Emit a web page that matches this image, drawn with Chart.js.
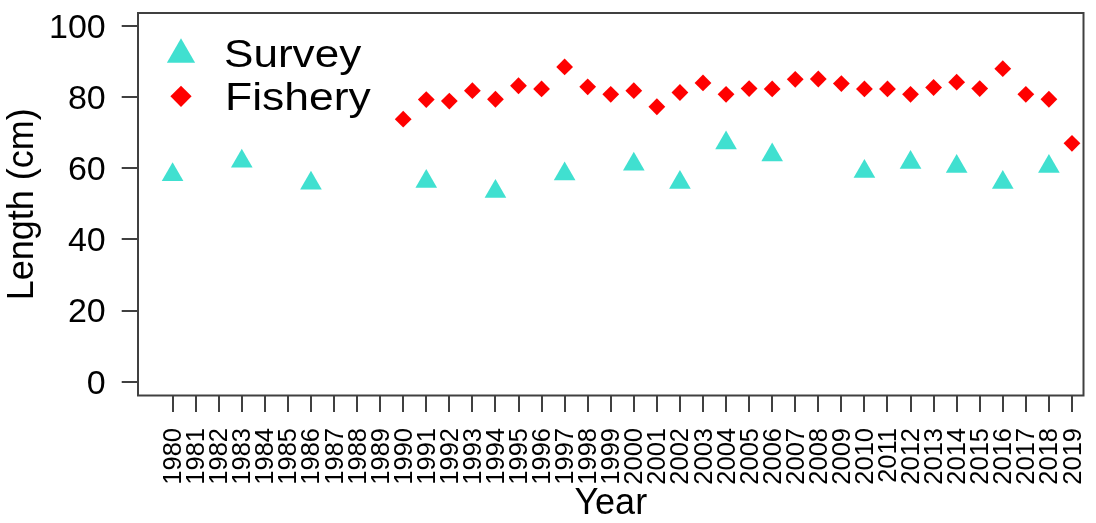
<!DOCTYPE html>
<html>
<head>
<meta charset="utf-8">
<script src="https://cdn.jsdelivr.net/npm/chart.js@4.4.1/dist/chart.umd.min.js"></script>
<style>
    html, body { margin: 0; padding: 0; background: #fff; }
    #wrap { width: 1096px; height: 523px; }
</style>
</head>
<body>
<div id="wrap"><canvas id="lengthChart" width="1096" height="523"></canvas></div>
<script>
// Data
const yearTicks = [1980, 1981, 1982, 1983, 1984, 1985, 1986, 1987, 1988, 1989,
    1990, 1991, 1992, 1993, 1994, 1995, 1996, 1997, 1998, 1999,
    2000, 2001, 2002, 2003, 2004, 2005, 2006, 2007, 2008, 2009,
    2010, 2011, 2012, 2013, 2014, 2015, 2016, 2017, 2018, 2019];
const lengthTicks = [0, 20, 40, 60, 80, 100];

const surveyYears = [1980, 1983, 1986, 1991, 1994, 1997, 2000, 2002, 2004, 2006, 2010, 2012, 2014, 2016, 2018];
const surveyLength = [58.2, 62.0, 55.8, 56.3, 53.5, 58.4, 61.1, 56.0, 67.1, 63.7, 59.1, 61.6, 60.5, 56.0, 60.5];

const fisheryYears = [1990, 1991, 1992, 1993, 1994, 1995, 1996, 1997, 1998, 1999,
    2000, 2001, 2002, 2003, 2004, 2005, 2006, 2007, 2008, 2009,
    2010, 2011, 2012, 2013, 2014, 2015, 2016, 2017, 2018, 2019];
const fisheryLength = [73.8, 79.3, 78.9, 81.8, 79.4, 83.2, 82.3, 88.5, 82.9, 80.8,
    81.8, 77.3, 81.3, 84.0, 80.8, 82.4, 82.3, 85.0, 85.1, 83.8,
    82.3, 82.3, 80.8, 82.7, 84.2, 82.4, 88.0, 80.8, 79.4, 67.0];

const colors = {
    survey: '#40E0D0',
    fishery: '#FF0000',
    axis: '#404040',
    text: '#000000'
};

Chart.defaults.font.family = "'Liberation Sans', Arial, sans-serif";
Chart.defaults.color = colors.text;

const toPoints = (xs, ys) => xs.map((x, i) => ({ x: x, y: ys[i] }));

// fixed axis sizes, no extra label padding pushed into the layout
function fitAxis(s, size) {
    if (s.isHorizontal()) s.height = size; else s.width = size;
    s.paddingTop = 0;
    s.paddingBottom = 0;
    s.paddingLeft = 0;
    s.paddingRight = 0;
}

// box around the plot + legend inside the top-left corner
const frameAndLegend = {
    id: 'frameAndLegend',
    afterDraw(chart) {
        const { ctx, chartArea: a } = chart;
        ctx.save();
        ctx.strokeStyle = colors.axis;
        ctx.lineWidth = 2;
        ctx.strokeRect(a.left, a.top, a.right - a.left, a.bottom - a.top);

        const items = [
            { text: 'Survey', style: 'triangle', radius: 16.3, color: colors.survey, mx: 181, my: 54.6, tx: 224, ty: 66.7, sx: 1.16 },
            { text: 'Fishery', style: 'rectRot', radius: 10.6, color: colors.fishery, mx: 181, my: 96.3, tx: 225, ty: 110, sx: 1.17 }
        ];
        items.forEach(it => {
            ctx.fillStyle = it.color;
            Chart.helpers.drawPoint(ctx, { pointStyle: it.style, radius: it.radius, rotation: 0, borderWidth: 0 }, it.mx, it.my);
            ctx.save();
            ctx.fillStyle = colors.text;
            ctx.font = "38px 'Liberation Sans', Arial, sans-serif";
            ctx.textBaseline = 'alphabetic';
            ctx.translate(it.tx, it.ty);
            ctx.scale(it.sx, 1);
            ctx.fillText(it.text, 0, 0);
            ctx.restore();
        });
        ctx.restore();
    }
};

const ctx = document.getElementById('lengthChart').getContext('2d');
new Chart(ctx, {
    type: 'scatter',
    data: {
        datasets: [{
            label: 'Survey',
            data: toPoints(surveyYears, surveyLength),
            pointStyle: 'triangle',
            pointRadius: 12.5,
            pointHoverRadius: 12.5,
            backgroundColor: colors.survey,
            borderWidth: 0
        }, {
            label: 'Fishery',
            data: toPoints(fisheryYears, fisheryLength),
            pointStyle: 'rectRot',
            pointRadius: 8.4,
            pointHoverRadius: 8.4,
            backgroundColor: colors.fishery,
            borderWidth: 0
        }]
    },
    options: {
        responsive: false,
        animation: false,
        devicePixelRatio: 1,
        layout: { padding: { top: 13, right: 2.5, left: 0, bottom: 0 } },
        plugins: { legend: { display: false }, tooltip: { enabled: false } },
        scales: {
            x: {
                type: 'linear',
                position: 'bottom',
                min: 1978.5,
                max: 2019.5,
                afterBuildTicks: s => { s.ticks = yearTicks.map(v => ({ value: v })); },
                afterFit: s => fitAxis(s, 127.5),
                border: { display: false },
                grid: { drawOnChartArea: false, drawTicks: true, tickLength: 16.5, color: colors.axis, lineWidth: 2 },
                ticks: {
                    autoSkip: false,
                    minRotation: 90,
                    maxRotation: 90,
                    padding: 16,
                    labelOffset: 1.5,
                    font: { size: 25.5 },
                    callback: v => String(v)
                },
                title: {
                    display: true,
                    text: 'Year',
                    font: { size: 36, lineHeight: 1 },
                    padding: { top: 0, bottom: 1 }
                }
            },
            y: {
                type: 'linear',
                position: 'left',
                min: -3.88,
                max: 103.65,
                afterBuildTicks: s => { s.ticks = lengthTicks.map(v => ({ value: v })); },
                afterFit: s => fitAxis(s, 138),
                border: { display: false },
                grid: { drawOnChartArea: false, drawTicks: true, tickLength: 16.3, color: colors.axis, lineWidth: 2 },
                ticks: {
                    padding: 16,
                    labelOffset: 2.5,
                    font: { size: 34 },
                    callback: v => String(v)
                },
                title: {
                    display: true,
                    text: 'Length (cm)',
                    font: { size: 36, lineHeight: 1 },
                    padding: { top: 5.5, bottom: 0 }
                }
            }
        }
    },
    plugins: [frameAndLegend]
});
</script>
</body>
</html>
